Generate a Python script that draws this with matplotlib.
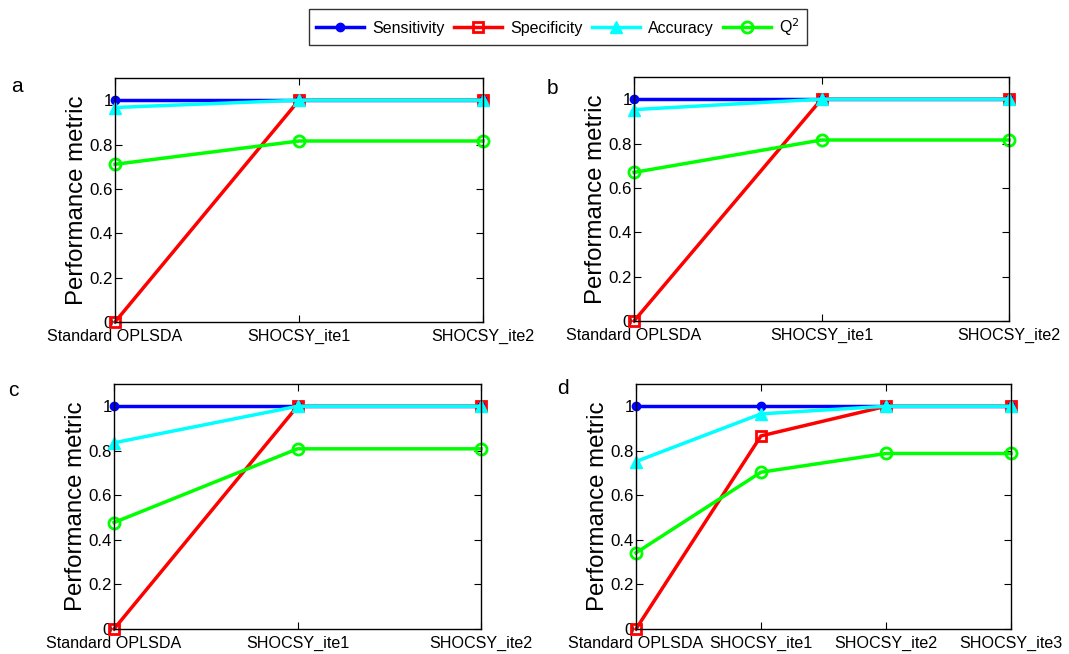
import matplotlib
matplotlib.use("Agg")
import matplotlib.pyplot as plt
from matplotlib.ticker import FixedLocator

plt.rcParams['font.family'] = ['Liberation Sans', 'DejaVu Sans']

cats3 = ["Standard OPLSDA", "SHOCSY_ite1", "SHOCSY_ite2"]
cats4 = ["Standard OPLSDA", "SHOCSY_ite1", "SHOCSY_ite2", "SHOCSY_ite3"]

sens_a = [1, 1, 1]
spec_a = [0, 1, 1]
acc_a = [0.967, 1, 1]
q2_a = [0.711, 0.816, 0.816]

sens_b = [1, 1, 1]
spec_b = [0, 1, 1]
acc_b = [0.953, 1, 1]
q2_b = [0.670, 0.816, 0.816]

sens_c = [1, 1, 1]
spec_c = [0, 1, 1]
acc_c = [0.836, 1, 1]
q2_c = [0.478, 0.809, 0.809]

sens_d = [1, 1, 1, 1]
spec_d = [0, 0.867, 1, 1]
acc_d = [0.752, 0.966, 1, 1]
q2_d = [0.342, 0.704, 0.788, 0.788]

panels = [
    ("a", cats3, sens_a, spec_a, acc_a, q2_a),
    ("b", cats3, sens_b, spec_b, acc_b, q2_b),
    ("c", cats3, sens_c, spec_c, acc_c, q2_c),
    ("d", cats4, sens_d, spec_d, acc_d, q2_d),
]

W, H = 1069, 654
fig = plt.figure(figsize=(W / 100, H / 100), dpi=100)

# axes boxes in pixels: left, right, top, bottom
boxes = [
    (115, 483, 78, 322),
    (634, 1009, 77, 321),
    (114, 481, 384, 629),
    (636, 1011, 384, 629),
]
letter_pos = [(11, 86), (547, 88), (8, 390), (557, 388)]

handles = None
for (letter, cats, sens, spec, acc, q2), (l, r, t, b), (lx, ly) in zip(panels, boxes, letter_pos):
    ax = fig.add_axes([l / W, 1 - b / H, (r - l) / W, (b - t) / H])
    x = list(range(len(cats)))
    lw = 2.5
    h1, = ax.plot(x, sens, color='#0000ff', lw=lw, marker='o', ms=6,
                  mfc='#0000ff', mec='#0000ff', label='Sensitivity', clip_on=False)
    h2, = ax.plot(x, spec, color='#ff0000', lw=lw, marker='s', ms=7,
                  mfc='none', mec='#ff0000', mew=2, label='Specificity', clip_on=False)
    h3, = ax.plot(x, acc, color='#00ffff', lw=lw, marker='^', ms=9,
                  mfc='#00ffff', mec='#00ffff', label='Accuracy', clip_on=False)
    h4, = ax.plot(x, q2, color='#00ff00', lw=lw, marker='o', ms=8,
                  mfc='none', mec='#00ff00', mew=2, label='Q$^2$', clip_on=False)
    handles = [h1, h2, h3, h4]
    ax.set_xlim(0, len(cats) - 1)
    ax.set_ylim(0, 1.1)
    ax.set_xticks(x)
    ax.set_xticklabels(cats, fontsize=11.6)
    ax.yaxis.set_major_locator(FixedLocator([0, 0.2, 0.4, 0.6, 0.8, 1]))
    ax.set_yticklabels(["0", "0.2", "0.4", "0.6", "0.8", "1"], fontsize=12.2)
    ax.tick_params(direction='in', top=True, right=True, length=5, width=0.8, pad=1.5)
    ax.tick_params(axis='x', pad=5)
    for s in ax.spines.values():
        s.set_linewidth(1.0)
    ax.set_ylabel("Performance metric", fontsize=17.3, labelpad=1)
    fig.text(lx / W, 1 - ly / H, letter, fontsize=15, ha='left', va='center')

fig.legend(handles=handles, loc='center', bbox_to_anchor=(558 / W, 1 - 27 / H),
           ncol=4, fontsize=11.5, frameon=True, fancybox=False, edgecolor='black',
           handlelength=3.0, columnspacing=0.6, handletextpad=0.5, borderpad=0.45)

fig.savefig("out.png", dpi=100)
